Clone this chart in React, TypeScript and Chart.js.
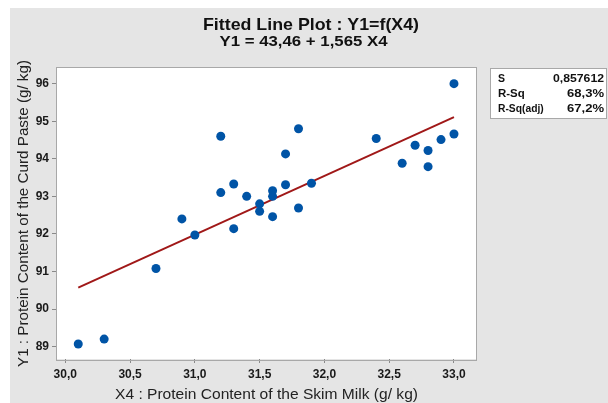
import { useEffect, useRef } from 'react';
import { Chart, registerables } from 'chart.js';

Chart.register(...registerables);

// Data
const xValues = [30.1, 30.3, 30.7, 30.9, 31.0, 31.2, 31.2, 31.3, 31.3, 31.4, 31.5, 31.5, 31.6, 31.6, 31.6, 31.7, 31.7, 31.8, 31.8, 31.9, 32.4, 32.6, 32.7, 32.8, 32.8, 32.9, 33.0, 33.0];
const yValues = [89.07, 89.2, 91.08, 92.4, 91.97, 94.6, 93.1, 93.33, 92.14, 93.0, 92.8, 92.6, 93.15, 93.0, 92.46, 94.13, 93.31, 94.8, 92.69, 93.35, 94.54, 93.88, 94.36, 94.22, 93.79, 94.51, 96.0, 94.66];
const fitX = [30.1, 33.0];
const fitY = [90.57, 95.11];
const xTicks = [30.0, 30.5, 31.0, 31.5, 32.0, 32.5, 33.0];
const yTicks = [89, 90, 91, 92, 93, 94, 95, 96];
const titleText = 'Fitted Line Plot : Y1=f(X4)';
const subtitleText = 'Y1 = 43,46 + 1,565 X4';
const xAxisTitle = 'X4 : Protein Content of the Skim Milk (g/ kg)';
const yAxisTitle = 'Y1 : Protein Content of the Curd Paste (g/ kg)';
const statLabels = ['S', 'R-Sq', 'R-Sq(adj)'];
const statValues = ['0,857612', '68,3%', '67,2%'];

const FONT = '"Liberation Sans", Arial, Helvetica, sans-serif';

// draw text starting at left x, stretched horizontally to a target width
function fitText(ctx: any, text: string, left: number, y: number, target: number) {
  ctx.save();
  ctx.textAlign = 'left';
  const w = ctx.measureText(text).width;
  ctx.translate(left, y);
  ctx.scale(target / w, 1);
  ctx.fillText(text, 0, 0);
  ctx.restore();
}

const figurePlugin = {
  id: 'figure',
  beforeDraw(chart: any) {
    const { ctx, chartArea: a } = chart;
    ctx.save();
    ctx.fillStyle = '#ffffff';
    ctx.fillRect(0, 0, chart.width, chart.height);
    ctx.fillStyle = '#e5e5e5';
    ctx.fillRect(10, 8, chart.width - 10, chart.height - 8);
    ctx.fillStyle = '#ffffff';
    ctx.fillRect(a.left, a.top, a.right - a.left, a.bottom - a.top);
    ctx.restore();
  },
  afterDraw(chart: any) {
    const { ctx, chartArea: a } = chart;
    ctx.save();
    ctx.strokeStyle = '#a8a8a8';
    ctx.lineWidth = 1;
    ctx.strokeRect(Math.round(a.left) - 0.5, Math.round(a.top) - 0.5, Math.round(a.right - a.left) + 1, Math.round(a.bottom - a.top) + 1);

    ctx.fillStyle = '#111';
    ctx.textBaseline = 'middle';
    ctx.font = `bold 17px ${FONT}`;
    fitText(ctx, titleText, 203, 25, 216);
    ctx.font = `bold 14.5px ${FONT}`;
    fitText(ctx, subtitleText, 219.5, 41.5, 168);

    ctx.fillStyle = '#222';
    ctx.font = `15px ${FONT}`;
    fitText(ctx, xAxisTitle, 115, 395, 303);
    ctx.save();
    ctx.translate(23.5, 367);
    ctx.rotate(-Math.PI / 2);
    fitText(ctx, yAxisTitle, 0, 0, 307);
    ctx.restore();

    // stats box
    const bx = 490.5, by = 68.5, bw = 116, bh = 50;
    ctx.fillStyle = '#ffffff';
    ctx.fillRect(bx, by, bw, bh);
    ctx.strokeStyle = '#a8a8a8';
    ctx.strokeRect(bx, by, bw, bh);
    ctx.fillStyle = '#111';
    ctx.font = `bold 10.5px ${FONT}`;
    const labelWidths = [0, 26.7, 45.7];
    const valueWidths = [51, 37, 37];
    statLabels.forEach((l, i) => {
      const y = 79 + i * 15;
      if (labelWidths[i] > 0) fitText(ctx, l, 498, y, labelWidths[i]);
      else { ctx.textAlign = 'left'; ctx.fillText(l, 498, y); }
      fitText(ctx, statValues[i], 604 - valueWidths[i], y, valueWidths[i]);
    });
    ctx.restore();
  },
};

export default function App() {
  const ref = useRef<HTMLCanvasElement | null>(null);
  useEffect(() => {
    document.body.style.margin = '0';
    const canvas = ref.current!;
    const chart = new Chart(canvas, {
      type: 'scatter',
      data: {
        datasets: [
          {
            type: 'scatter',
            data: xValues.map((x, i) => ({ x, y: yValues[i] })),
            backgroundColor: '#0054a6',
            borderColor: '#0054a6',
            pointRadius: 4.5,
            pointBorderWidth: 0,
          },
          {
            type: 'line',
            data: fitX.map((x, i) => ({ x, y: fitY[i] })),
            borderColor: '#a01818',
            borderWidth: 2,
            pointRadius: 0,
            fill: false,
          },
        ],
      } as any,
      options: {
        animation: false,
        responsive: false,
        devicePixelRatio: 1,
        layout: { padding: { left: 0, top: 67.5, right: 132, bottom: 0 } },
        plugins: { legend: { display: false }, tooltip: { enabled: false } },
        scales: {
          x: {
            type: 'linear',
            min: 29.936,
            max: 33.17,
            border: { display: false },
            grid: { display: true, drawOnChartArea: false, drawTicks: true, tickLength: 4, color: '#8a8a8a' },
            ticks: {
              color: '#1a1a1a',
              padding: 4,
              maxRotation: 0,
              font: { family: FONT, size: 12, weight: 'bold' },
              callback: (v: any) => Number(v).toFixed(1).replace('.', ','),
            },
            afterBuildTicks: (s: any) => { s.ticks = xTicks.map((value) => ({ value })); },
            afterFit: (s: any) => { s.height = 44; },
          },
          y: {
            type: 'linear',
            min: 88.67,
            max: 96.43,
            border: { display: false },
            grid: { display: true, drawOnChartArea: false, drawTicks: true, tickLength: 5, color: '#8a8a8a' },
            ticks: {
              color: '#1a1a1a',
              padding: 3,
              font: { family: FONT, size: 12, weight: 'bold' },
              callback: (v: any) => String(v),
            },
            afterBuildTicks: (s: any) => { s.ticks = yTicks.map((value) => ({ value })); },
            afterFit: (s: any) => { s.width = 57; },
          },
        },
      } as any,
      plugins: [figurePlugin],
    });
    return () => chart.destroy();
  }, []);
  return (
    <div style={{ position: 'absolute', left: 0, top: 0, width: 608, height: 403 }}>
      <canvas ref={ref} width={608} height={403} style={{ width: 608, height: 403, display: 'block' }} />
    </div>
  );
}
